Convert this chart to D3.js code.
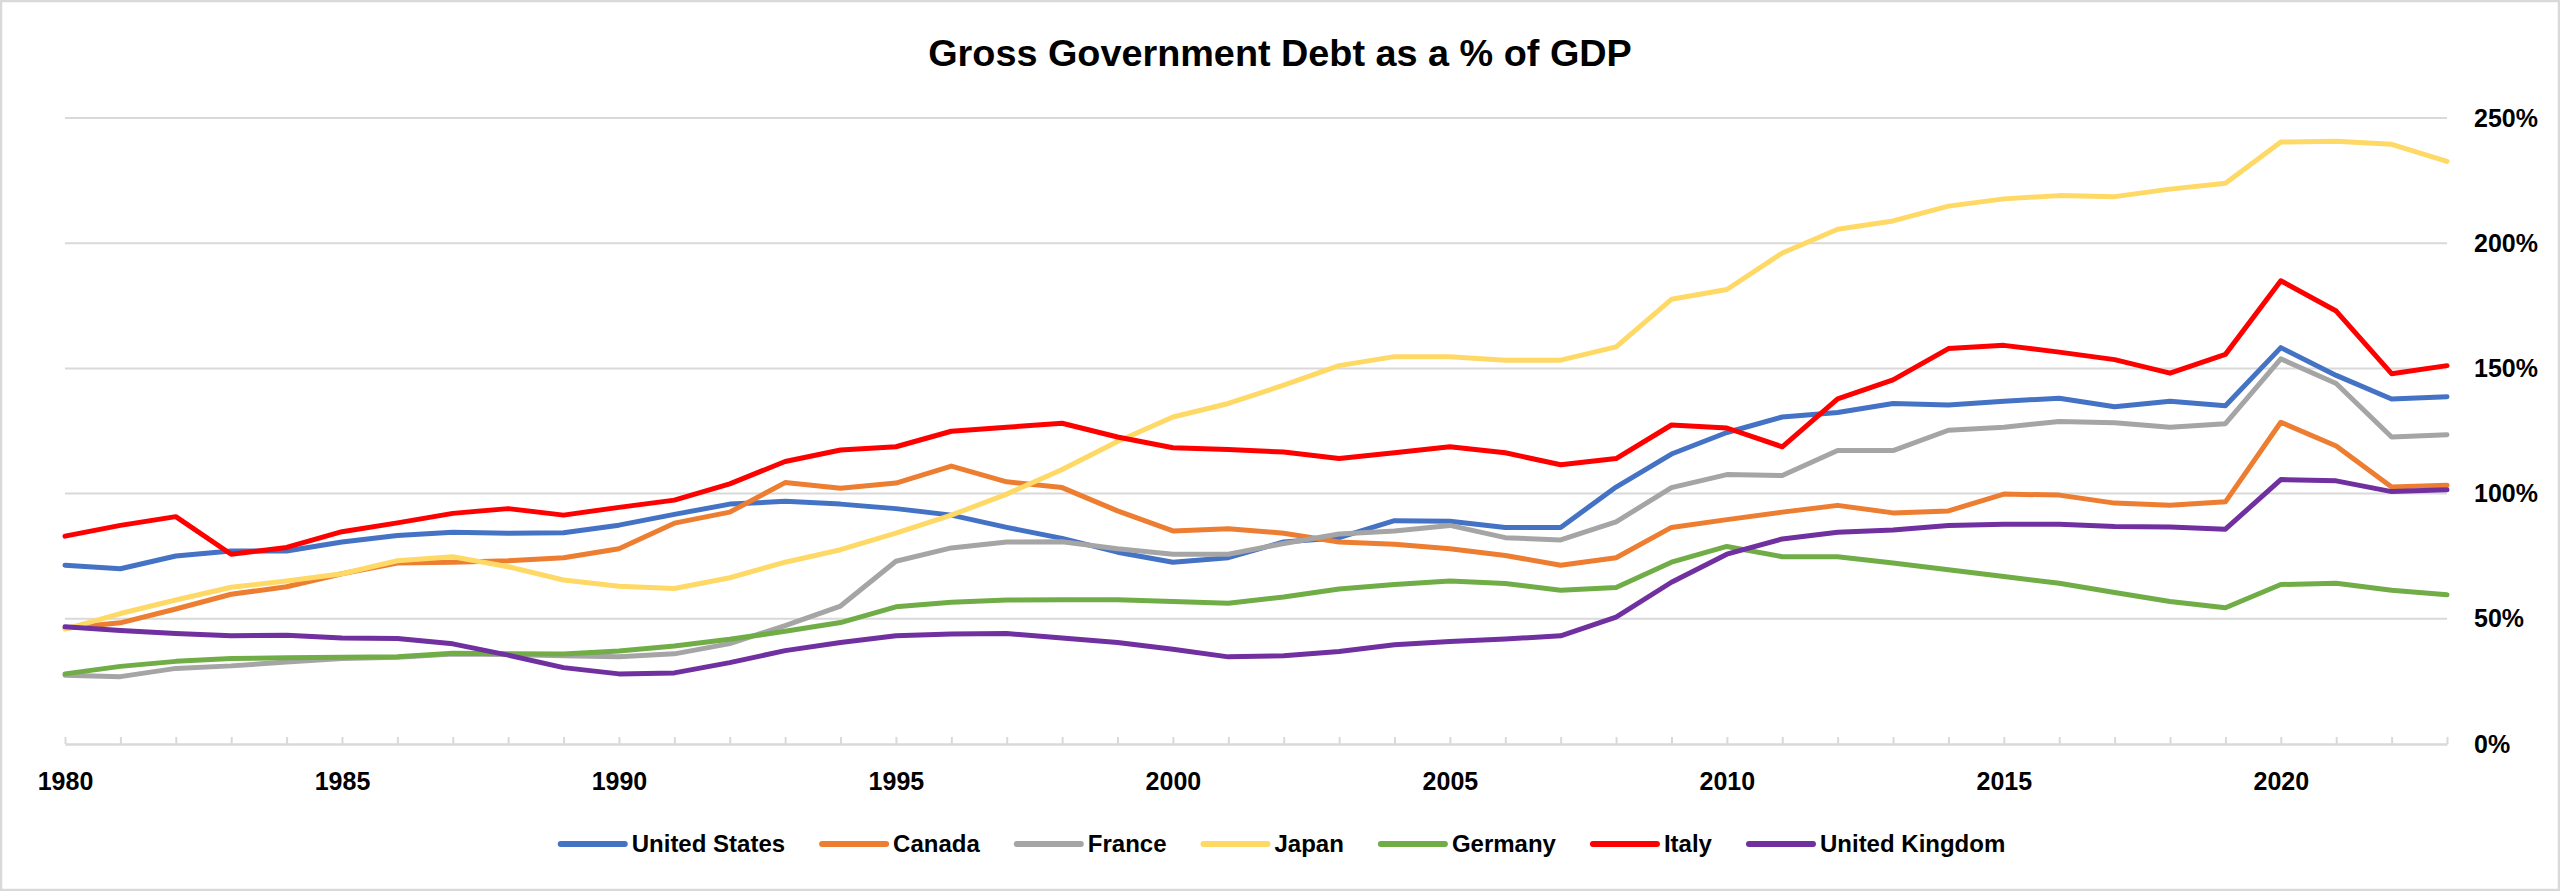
<!DOCTYPE html>
<html>
<head>
<meta charset="utf-8">
<script src="https://cdn.jsdelivr.net/npm/d3@7"></script>
<style>
  html, body { margin: 0; padding: 0; background: #ffffff; }
  svg { display: block; }
</style>
</head>
<body>
<svg id="chart" width="2560" height="891"></svg>
<script>
const years = [1980,1981,1982,1983,1984,1985,1986,1987,1988,1989,
               1990,1991,1992,1993,1994,1995,1996,1997,1998,1999,
               2000,2001,2002,2003,2004,2005,2006,2007,2008,2009,
               2010,2011,2012,2013,2014,2015,2016,2017,2018,2019,
               2020,2021,2022,2023];

const unitedStates = [71.4,70.0,75.1,77.1,77.1,80.7,83.3,84.6,84.2,84.4,
  87.4,91.7,95.8,96.9,95.8,94.0,91.4,86.5,82.1,76.6,
  72.6,74.4,80.7,82.4,89.2,89.0,86.5,86.5,102.6,115.8,
  124.4,130.6,132.4,136.0,135.4,136.9,138.1,134.7,136.9,135.1,
  158.3,147.2,137.8,138.7];
const canada = [46.2,48.4,53.9,59.8,62.8,68.0,72.3,72.6,73.2,74.4,
  78.0,88.2,92.6,104.4,102.1,104.2,111.0,104.7,102.4,93.1,
  85.1,86.0,84.2,80.7,79.8,78.0,75.3,71.4,74.4,86.5,
  89.6,92.6,95.3,92.3,93.1,99.8,99.4,96.2,95.3,96.7,
  128.5,119.0,102.6,103.3];
const france = [27.5,26.9,30.2,31.2,32.7,34.1,34.6,35.9,35.7,35.2,
  34.8,36.0,40.1,47.3,55.1,73.0,78.3,80.7,80.8,78.0,
  75.8,75.8,80.1,83.9,85.1,87.3,82.4,81.5,88.7,102.4,
  107.6,107.2,117.2,117.2,125.3,126.5,128.8,128.3,126.5,127.9,
  153.8,144.0,122.6,123.5];
const japan = [45.9,52.1,57.5,62.6,65.1,68.0,73.2,74.8,70.8,65.5,
  63.0,62.1,66.4,72.6,77.6,84.2,91.4,99.8,109.6,120.8,
  130.6,136.0,143.3,151.1,154.7,154.7,153.3,153.3,158.6,177.6,
  181.5,196.1,205.6,208.9,214.8,217.7,219.0,218.6,221.6,223.9,
  240.4,240.7,239.5,232.7];
const germany = [28.0,31.0,33.0,34.1,34.4,34.6,34.8,36.2,36.0,35.9,
  37.1,39.1,41.8,45.0,48.5,54.8,56.6,57.5,57.6,57.6,
  56.9,56.2,58.7,61.9,63.7,65.1,64.1,61.4,62.5,72.6,
  78.9,74.8,74.8,72.3,69.6,66.9,64.2,60.5,56.9,54.4,
  63.7,64.2,61.4,59.6];
const italy = [83.0,87.3,90.8,75.8,78.5,84.8,88.3,92.1,94.0,91.4,
  94.5,97.4,103.9,112.8,117.4,118.7,124.9,126.5,128.1,122.6,
  118.3,117.6,116.6,114.0,116.3,118.7,116.3,111.5,114.0,127.4,
  126.2,118.7,137.8,145.4,157.9,159.2,156.5,153.5,148.1,155.6,
  185.0,172.9,147.9,151.1];
const unitedKingdom = [46.8,45.3,44.1,43.2,43.4,42.3,42.1,40.0,35.5,30.5,
  28.0,28.4,32.5,37.3,40.5,43.2,43.9,44.1,42.3,40.5,
  37.8,34.8,35.2,36.9,39.6,40.9,41.9,43.2,50.7,64.6,
  75.8,81.9,84.6,85.5,87.3,87.8,87.8,86.9,86.7,85.8,
  105.6,105.1,100.8,101.5];

const seriesNames = ["United States","Canada","France","Japan","Germany","Italy","United Kingdom"];
const seriesColors = ["#4472C4","#ED7D31","#A5A5A5","#FFD966","#70AD47","#FF0000","#7030A0"];
const seriesValues = [unitedStates, canada, france, japan, germany, italy, unitedKingdom];

const xLabelYears = [1980,1985,1990,1995,2000,2005,2010,2015,2020];
const yTicks = [0,50,100,150,200,250];

const W = 2560, H = 891;
const FONT = "'Liberation Sans', Arial, sans-serif";
const svg = d3.select("#chart");

svg.append("rect").attr("x",0).attr("y",0).attr("width",W).attr("height",H).attr("fill","#ffffff");
svg.append("rect").attr("x",1).attr("y",1).attr("width",W-2).attr("height",H-2)
  .attr("fill","none").attr("stroke","#d9d9d9").attr("stroke-width",2.5);

const x = d3.scaleLinear().domain([years[0], years[years.length-1]]).range([65, 2447]);
const y = d3.scaleLinear().domain([0, 250]).range([744, 118]);

// title
svg.append("text").attr("x", 1280).attr("y", 66).attr("text-anchor","middle")
  .attr("font-family", FONT).attr("font-weight","bold").attr("font-size", 37.8)
  .attr("fill","#000").text("Gross Government Debt as a % of GDP");

// gridlines
svg.append("g").selectAll("line").data(yTicks.filter(d => d > 0)).join("line")
  .attr("x1", x.range()[0]).attr("x2", x.range()[1])
  .attr("y1", d => y(d)).attr("y2", d => y(d))
  .attr("stroke","#d9d9d9").attr("stroke-width",2);

// x axis
const xAxis = d3.axisBottom(x).tickValues(years).tickSizeInner(-7).tickSizeOuter(0)
  .tickPadding(28).tickFormat(d => xLabelYears.includes(d) ? String(d) : "");
const gx = svg.append("g").attr("transform", `translate(0,${y(0)})`).call(xAxis);
gx.select(".domain").attr("stroke","#d9d9d9").attr("stroke-width",2.5);
gx.selectAll(".tick line").attr("stroke","#d9d9d9").attr("stroke-width",2);
gx.selectAll("text").attr("font-family",FONT).attr("font-weight","bold").attr("font-size",25).attr("fill","#000");

// right y axis
const yAxis = d3.axisRight(y).tickValues(yTicks).tickSize(0).tickPadding(27).tickFormat(d => d + "%");
const gy = svg.append("g").attr("transform", `translate(${x.range()[1]},0)`).call(yAxis);
gy.select(".domain").remove();
gy.selectAll("text").attr("font-family",FONT).attr("font-weight","bold").attr("font-size",25).attr("fill","#000");

// lines
const line = d3.line().x((d,i) => x(years[i])).y(d => y(d));
svg.append("g").selectAll("path").data(seriesValues).join("path")
  .attr("d", d => line(d)).attr("fill","none")
  .attr("stroke", (d,i) => seriesColors[i]).attr("stroke-width",5)
  .attr("stroke-linejoin","round").attr("stroke-linecap","round");

// legend
const legend = svg.append("g");
const items = legend.selectAll("g").data(seriesNames).join("g");
items.append("line").attr("x1",0).attr("x2",64).attr("y1",0).attr("y2",0)
  .attr("stroke",(d,i) => seriesColors[i]).attr("stroke-width",6).attr("stroke-linecap","round");
items.append("text").attr("x",71).attr("y",0).attr("dy","0.35em")
  .attr("font-family",FONT).attr("font-weight","bold").attr("font-size",24).attr("fill","#000")
  .text(d => d);
let cx = 0;
const offsets = [];
items.each(function() {
  const tw = d3.select(this).select("text").node().getComputedTextLength();
  offsets.push(cx);
  cx += 71 + tw + 37;
});
const total = cx - 37;
const startX = 1283 - total/2;
items.attr("transform",(d,i) => `translate(${startX + offsets[i]},844)`);
</script>
</body>
</html>
